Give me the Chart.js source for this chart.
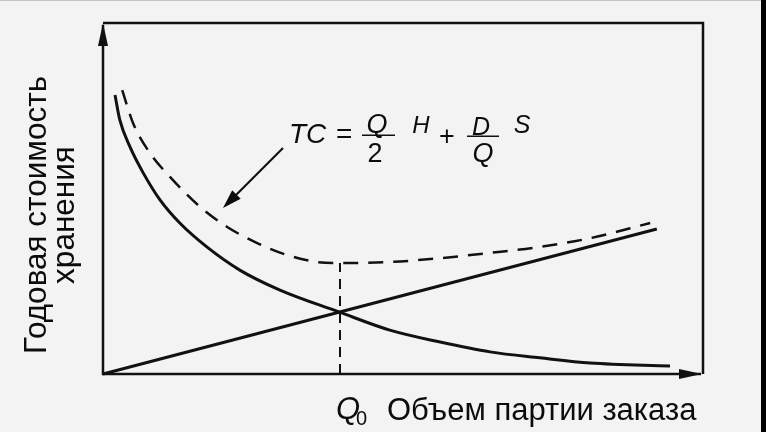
<!DOCTYPE html>
<html>
<head>
<meta charset="utf-8">
<script src="https://cdn.jsdelivr.net/npm/chart.js@4"></script>
<style>
  body { margin: 0; background: #f3f3f3; }
  canvas { display: block; }
</style>
</head>
<body>
<canvas id="eoq" width="766" height="432"></canvas>
<script>
// order size Q (0..100) and annual cost (0..100)
const holdingQ = [0, 92.3];
const holdingCost = [0, 41.3];

const orderQ = [2.0, 2.8, 4.5, 6.7, 9.5, 12.8, 17.3, 22.8, 29.5, 39.3, 47.8, 56.2, 64.5, 72.8, 81.2, 94.5];
const orderCost = [79.5, 72.4, 64.7, 57.3, 49.6, 43.0, 36.2, 29.6, 23.9, 17.7, 12.5, 9.1, 6.3, 4.6, 3.1, 2.3];

const totalQ = [3.2, 5.0, 7.8, 11.2, 16.2, 20.7, 25.7, 30.7, 35.7, 39.5, 47.8, 56.2, 64.5, 72.8, 81.2, 91.2];
const totalCost = [80.9, 71.5, 63.0, 56.1, 47.6, 41.9, 37.3, 33.9, 31.9, 31.6, 31.9, 33.0, 34.5, 36.2, 38.7, 43.0];

// optimal order size and its total cost
const q0 = 39.5;
const q0Cost = 31.6;

const yTitle = ["Годовая стоимость", "хранения"];
const xTitle = "Объем партии заказа";

const FONT = '"Liberation Sans", Arial, sans-serif';

const toPoints = (xs, ys) => xs.map((x, i) => ({ x: x, y: ys[i] }));

function arrowHead(ctx, x1, y1, x2, y2, len, half) {
  //tip at x2,y2
  const a = Math.atan2(y2 - y1, x2 - x1);
  ctx.beginPath();
  ctx.moveTo(x2, y2);
  ctx.lineTo(x2 - len * Math.cos(a) + half * Math.sin(a), y2 - len * Math.sin(a) - half * Math.cos(a));
  ctx.lineTo(x2 - len * Math.cos(a) - half * Math.sin(a), y2 - len * Math.sin(a) + half * Math.cos(a));
  ctx.closePath();
  ctx.fill();
}

const drawing = {
  id: "drawing",
  beforeDraw(chart) {
    const ctx = chart.ctx;
    ctx.save();
    ctx.fillStyle = "#f3f3f3";
    ctx.fillRect(0, 0, chart.width, chart.height);
    ctx.fillStyle = "#c4c4c4";
    ctx.fillRect(0, 0, chart.width, 1);
    ctx.fillStyle = "#000";
    ctx.fillRect(761, 0, 5, chart.height);
    ctx.restore();
  },
  beforeDatasetsDraw(chart) {
    const { ctx, chartArea: a } = chart;
    ctx.save();
    ctx.strokeStyle = "#111";
    ctx.fillStyle = "#111";
    //frame top and right
    ctx.lineWidth = 2.5;
    ctx.beginPath();
    ctx.moveTo(a.left, a.top);
    ctx.lineTo(a.right, a.top);
    ctx.lineTo(a.right, a.bottom);
    ctx.stroke();
    //axes
    ctx.lineWidth = 2.5;
    ctx.beginPath();
    ctx.moveTo(a.left, a.top + 2);
    ctx.lineTo(a.left, a.bottom);
    ctx.lineTo(a.right - 2, a.bottom);
    ctx.stroke();
    arrowHead(ctx, a.left, a.bottom, a.left, a.top, 23, 5);
    arrowHead(ctx, a.left, a.bottom, a.right - 1, a.bottom, 23, 5);
    ctx.restore();
  },
  afterDraw(chart) {
    const { ctx, scales } = chart;
    const x = scales.x, y = scales.y;
    ctx.save();
    ctx.fillStyle = "#0c0c0c";
    ctx.strokeStyle = "#111";

    //axis titles
    ctx.textAlign = "center";
    ctx.textBaseline = "alphabetic";
    ctx.font = "31.5px " + FONT;
    [46, 74].forEach((bx, i) => {
      ctx.save();
      ctx.translate(bx, 215);
      ctx.rotate(-Math.PI / 2);
      ctx.fillText(yTitle[i], 0, 0);
      ctx.restore();
    });
    ctx.textAlign = "left";
    ctx.font = "31px " + FONT;
    ctx.fillText(xTitle, 387, 420);

    //Q0 tick label
    const qx = x.getPixelForValue(q0);
    ctx.font = "italic 31px " + FONT;
    ctx.fillText("Q", qx - 4, 419);
    ctx.font = "20px " + FONT;
    ctx.fillText("0", qx + 16, 425);

    //formula
    const fx = x.getPixelForValue(31);
    const fy = y.getPixelForValue(68);
    ctx.font = "italic 28px " + FONT;
    ctx.fillText("TC", fx, fy + 8);
    ctx.font = "28px " + FONT;
    ctx.fillText("=", fx + 47, fy + 8);
    ctx.lineWidth = 1.5;
    ctx.beginPath();
    ctx.moveTo(fx + 73, fy);
    ctx.lineTo(fx + 106, fy);
    ctx.moveTo(fx + 178, fy + 1);
    ctx.lineTo(fx + 210, fy + 1);
    ctx.stroke();
    ctx.textAlign = "center";
    ctx.font = "italic 27px " + FONT;
    ctx.fillText("Q", fx + 88, fy - 2);
    ctx.font = "27px " + FONT;
    ctx.fillText("2", fx + 86, fy + 27);
    ctx.font = "italic 24px " + FONT;
    ctx.fillText("H", fx + 132, fy - 2);
    ctx.font = "27px " + FONT;
    ctx.fillText("+", fx + 158, fy + 10);
    ctx.font = "italic 25px " + FONT;
    ctx.fillText("D", fx + 192, fy);
    ctx.font = "italic 27px " + FONT;
    ctx.fillText("Q", fx + 194, fy + 27);
    ctx.font = "italic 25px " + FONT;
    ctx.fillText("S", fx + 233, fy - 2);

    //pointer to the total cost curve
    const ax1 = x.getPixelForValue(30), ay1 = y.getPixelForValue(64.4);
    const ax2 = x.getPixelForValue(20), ay2 = y.getPixelForValue(47.3);
    ctx.lineWidth = 2.2;
    ctx.beginPath();
    ctx.moveTo(ax1, ay1);
    ctx.lineTo(ax2 + 8, ay2 - 8);
    ctx.stroke();
    arrowHead(ctx, ax1, ay1, ax2, ay2, 19, 6);
    ctx.restore();
  },
};

new Chart(document.getElementById("eoq"), {
  type: "scatter",
  plugins: [drawing],
  data: {
    datasets: [
      {
        data: toPoints(holdingQ, holdingCost),
        borderColor: "#111",
        borderWidth: 3,
      },
      {
        data: toPoints(orderQ, orderCost),
        borderColor: "#111",
        borderWidth: 3,
        cubicInterpolationMode: "monotone",
      },
      {
        data: toPoints(totalQ, totalCost),
        borderColor: "#111",
        borderWidth: 2.5,
        borderDash: [15, 10],
        cubicInterpolationMode: "monotone",
      },
      {
        data: toPoints([q0, q0], [0, q0Cost]),
        borderColor: "#111",
        borderWidth: 2,
        borderDash: [10, 7],
      },
    ],
  },
  options: {
    responsive: false,
    devicePixelRatio: 1,
    animation: false,
    layout: { padding: { left: 103, right: 63, top: 23, bottom: 58 } },
    elements: {
      point: { radius: 0 },
      line: { fill: false },
    },
    datasets: { scatter: { showLine: true, clip: false } },
    plugins: {
      legend: { display: false },
      tooltip: { enabled: false },
    },
    scales: {
      x: { type: "linear", min: 0, max: 100, display: false },
      y: { type: "linear", min: 0, max: 100, display: false },
    },
  },
});
</script>
</body>
</html>
